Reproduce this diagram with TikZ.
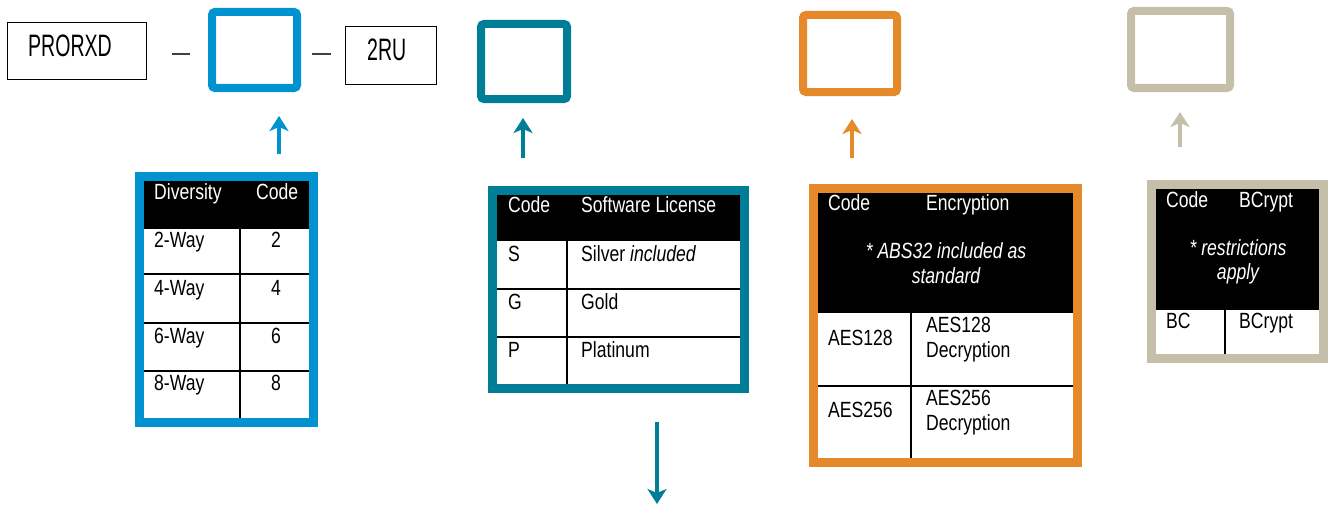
\documentclass[tikz,border=0pt]{standalone}
\usepackage{fontspec}
\setmainfont{Liberation Sans}[FakeStretch=0.8]
\newfontfamily\bigfnt{Liberation Sans}[FakeStretch=0.63]
\usetikzlibrary{arrows.meta}
\definecolor{cblue}{HTML}{0093D0}
\definecolor{cteal}{HTML}{007E98}
\definecolor{corange}{HTML}{E6892B}
\definecolor{cgrey}{HTML}{C5BFAA}
\newcommand{\tabfnt}{\fontsize{22}{25}\selectfont}
\begin{document}
\begin{tikzpicture}[x=1pt,y=-1pt,
  plainbox/.style={draw=black, line width=1.5, minimum width=#1, inner sep=0},
  topbox/.style={draw=#1, line width=8, rounded corners=3, inner sep=0},
  frame/.style={draw=#1, line width=9},
  grid/.style={draw=black, line width=2},
  tb/.style={anchor=base west, inner sep=0, font=\tabfnt},
  tw/.style={anchor=base west, inner sep=0, font=\tabfnt, text=white},
  tc/.style={anchor=base, inner sep=0, font=\tabfnt},
  twc/.style={anchor=base, inner sep=0, font=\tabfnt\itshape, text=white},
  bigtxt/.style={anchor=base west, inner sep=0, font=\bigfnt\fontsize{31}{34}\selectfont},
  arr/.style={draw=#1, line width=4, -{Stealth[length=15pt, width=19pt, inset=4pt]}},
  dashline/.style={draw=black!75, line width=1.5}
]
\useasboundingbox (0,0) rectangle (1328,511);

% ---------- top row ----------
\node[plainbox=139, minimum height=57] (pro) at (77,51) {};
\node[bigtxt] (protxt) at (28,57) {PRORXD};
\coordinate (d1a) at (172,54); \coordinate (d1b) at (190,54);
\draw[dashline] (d1a) -- (d1b);
\node[topbox=cblue, minimum width=85, minimum height=76] (bbox) at (254.5,50) {};
\coordinate (d2a) at (312,54); \coordinate (d2b) at (331,54);
\draw[dashline] (d2a) -- (d2b);
\node[plainbox=91, minimum height=58] (ru) at (391,55.5) {};
\node[bigtxt] (rutxt) at (367,61) {2RU};
\node[topbox=cteal, minimum width=86, minimum height=75] (tbox) at (524,61.5) {};
\node[topbox=corange, minimum width=94, minimum height=77] (obox) at (850,53.5) {};
\node[topbox=cgrey, minimum width=99, minimum height=77] (gbox) at (1180.5,49.5) {};

% ---------- arrows ----------
\coordinate (a1s) at (279,154); \coordinate (a1e) at (279,116);
\draw[arr=cblue] (a1s) -- (a1e);
\coordinate (a2s) at (523,158); \coordinate (a2e) at (523,118);
\draw[arr=cteal] (a2s) -- (a2e);
\coordinate (a3s) at (852,158); \coordinate (a3e) at (852,119);
\draw[arr=corange] (a3s) -- (a3e);
\coordinate (a4s) at (1180,147); \coordinate (a4e) at (1180,112);
\draw[arr=cgrey] (a4s) -- (a4e);
\coordinate (a5s) at (657,422); \coordinate (a5e) at (657,504);
\draw[arr=cteal] (a5s) -- (a5e);

% ---------- table 1 (diversity) ----------
\fill[black] (144,181) rectangle (309,229);
\draw[grid] (240,181) -- (240,418);
\foreach \y in {274,323,371} \draw[grid] (144,\y) -- (309,\y);
\draw[frame=cblue] (139.5,176.5) rectangle (313.5,422.5);
\node[tw] (t1h1) at (154,199) {Diversity};
\node[tw] (t1h2) at (256,199) {Code};
\node[tb] (t1r1) at (154,247) {2-Way}; \node[tc] (t1c1) at (276,247) {2};
\node[tb] (t1r2) at (154,295) {4-Way}; \node[tc] (t1c2) at (276,295) {4};
\node[tb] (t1r3) at (154,343) {6-Way}; \node[tc] (t1c3) at (276,343) {6};
\node[tb] (t1r4) at (154,390) {8-Way}; \node[tc] (t1c4) at (276,390) {8};

% ---------- table 2 (software license) ----------
\fill[black] (497,195) rectangle (740,241);
\draw[grid] (567,195) -- (567,384);
\foreach \y in {289,337} \draw[grid] (497,\y) -- (740,\y);
\draw[frame=cteal] (492.5,190.5) rectangle (744.5,388.5);
\node[tw] (t2h1) at (508,212) {Code};
\node[tw] (t2h2) at (581,212) {Software License};
\node[tb] (t2r1) at (508,261) {S}; \node[tb] (t2c1) at (581,261) {Silver \textit{included}};
\node[tb] (t2r2) at (508,309) {G}; \node[tb] (t2c2) at (581,309) {Gold};
\node[tb] (t2r3) at (508,357) {P}; \node[tb] (t2c3) at (581,357) {Platinum};

% ---------- table 3 (encryption) ----------
\fill[black] (818,193) rectangle (1073,313);
\draw[grid] (911,313) -- (911,458);
\draw[grid] (818,386) -- (1073,386);
\draw[frame=corange] (813.5,188.5) rectangle (1077.5,462.5);
\node[tw] (t3h1) at (828,210) {Code};
\node[tw] (t3h2) at (926,210) {Encryption};
\node[twc] (t3n1) at (946,258) {* ABS32 included as};
\node[twc] (t3n2) at (946,283) {standard};
\node[tb] (t3r1) at (828,345) {AES128};
\node[tb] (t3c1a) at (926,332) {AES128};
\node[tb] (t3c1b) at (926,357) {Decryption};
\node[tb] (t3r2) at (828,417) {AES256};
\node[tb] (t3c2a) at (926,405) {AES256};
\node[tb] (t3c2b) at (926,430) {Decryption};

% ---------- table 4 (bcrypt) ----------
\fill[black] (1156,189) rectangle (1319,310);
\draw[grid] (1225,310) -- (1225,354);
\draw[frame=cgrey] (1151.5,184.5) rectangle (1323.5,358.5);
\node[tw] (t4h1) at (1166,207) {Code};
\node[tw] (t4h2) at (1239,207) {BCrypt};
\node[twc] (t4n1) at (1238,255) {* restrictions};
\node[twc] (t4n2) at (1238,279) {apply};
\node[tb] (t4r1) at (1166,328) {BC};
\node[tb] (t4c1) at (1239,328) {BCrypt};
\end{tikzpicture}
\end{document}
